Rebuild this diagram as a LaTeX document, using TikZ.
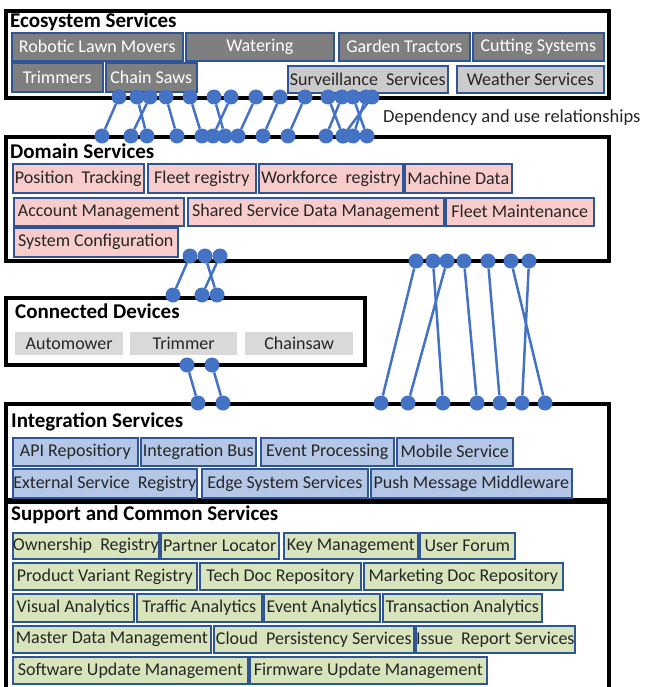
\documentclass[tikz,border=0pt]{standalone}
\usepackage{fontspec}
\setmainfont{Carlito}
\definecolor{bord}{HTML}{2F5597}
\definecolor{link}{HTML}{4472C4}
\definecolor{ecodark}{HTML}{7F7F7F}
\definecolor{ecolight}{HTML}{CBCBCB}
\definecolor{devgray}{HTML}{D9D9D9}
\definecolor{dompink}{HTML}{F9CCCC}
\definecolor{intblue}{HTML}{B4C7E7}
\definecolor{supgreen}{HTML}{D8E4BC}
\begin{document}
\begin{tikzpicture}[x=1pt,y=-1pt,
  layer/.style={draw=black, line width=3.5pt},
  title/.style={anchor=west, inner sep=0pt, font=\fontsize{21}{24}\selectfont\bfseries},
  item/.style={draw=bord, line width=1.6pt, anchor=north west, inner sep=0pt,
    font=\fontsize{18}{20}\selectfont, text=black!85},
  eco/.style={item, fill=ecodark, text=white},
  ecol/.style={item, fill=ecolight},
  dom/.style={item, fill=dompink},
  integ/.style={item, fill=intblue},
  sup/.style={item, fill=supgreen},
  dev/.style={anchor=north west, inner sep=0pt, fill=devgray,
    font=\fontsize{18}{20}\selectfont, text=black!85},
  dot/.style={circle, fill=link, inner sep=0pt, minimum size=15pt},
  dep/.style={draw=link, line width=2.5pt}
]
\useasboundingbox (0,0) rectangle (645,687);
\clip (0,0) rectangle (645,687);

% layer frames
\draw[layer] (6,11) rectangle (609,98);
\draw[layer] (6,137) rectangle (609,261);
\draw[layer] (6,298) rectangle (365,365);
\draw[layer] (6,404) rectangle (609,500);
\draw[layer] (6,502) rectangle (609,695);

% titles
\node[title] (tEco) at (10,22) {Ecosystem Services};
\node[title] (tDom) at (10,151) {Domain Services};
\node[title] (tDev) at (15,311) {Connected Devices};
\node[title] (tInt) at (11,422) {Integration Services};
\node[title] (tSup) at (11,515) {Support and Common Services};

% ecosystem services
\node[eco, minimum width=171pt, minimum height=28pt] (rlm) at (11,32) {Robotic Lawn Movers};
\node[eco, minimum width=148pt, minimum height=28pt] (wat) at (185,32) {Watering};
\node[eco, minimum width=131pt, minimum height=28pt] (gtr) at (338,32) {Garden Tractors};
\node[eco, minimum width=131pt, minimum height=28pt] (cut) at (472,32) {Cutting Systems};
\node[eco, minimum width=91pt, minimum height=29pt] (trm) at (11,62) {Trimmers};
\node[eco, minimum width=91pt, minimum height=29pt] (saw) at (105,62) {Chain Saws};
\node[ecol, minimum width=160pt, minimum height=27pt] (srv) at (287,65) {Surveillance\ \ Services};
\node[ecol, minimum width=147pt, minimum height=27pt] (wth) at (456,65) {Weather Services};

% domain services
\node[dom, minimum width=131pt, minimum height=29pt] (pos) at (12,163) {Position\ \ Tracking};
\node[dom, minimum width=108pt, minimum height=29pt] (flr) at (147,163) {Fleet registry};
\node[dom, minimum width=144pt, minimum height=29pt] (wfr) at (258,163) {Workforce\ \ registry};
\node[dom, minimum width=107pt, minimum height=29pt] (mdt) at (404,163) {Machine Data};
\node[dom, minimum width=170pt, minimum height=28pt] (acc) at (13,197) {Account Management};
\node[dom, minimum width=256pt, minimum height=28pt] (ssd) at (187,197) {Shared Service Data Management};
\node[dom, minimum width=148pt, minimum height=28pt] (flm) at (445,197) {Fleet Maintenance};
\node[dom, minimum width=164pt, minimum height=29pt] (cfg) at (13,227) {System Configuration};

% connected devices
\node[dev, minimum width=108pt, minimum height=23pt] (amw) at (15,332) {Automower};
\node[dev, minimum width=107pt, minimum height=23pt] (tri) at (130,332) {Trimmer};
\node[dev, minimum width=108pt, minimum height=23pt] (chs) at (245,332) {Chainsaw};

% integration services
\node[integ, minimum width=125pt, minimum height=28pt] (api) at (12,437) {API Repositiory};
\node[integ, minimum width=115pt, minimum height=28pt] (bus) at (140,437) {Integration Bus};
\node[integ, minimum width=133pt, minimum height=28pt] (evp) at (260,437) {Event Processing};
\node[integ, minimum width=116pt, minimum height=28pt] (mob) at (396,437) {Mobile Service};
\node[integ, minimum width=184pt, minimum height=29pt] (esr) at (12,468) {External Service\ \ Registry};
\node[integ, minimum width=166pt, minimum height=29pt] (edg) at (201,468) {Edge System Services};
\node[integ, minimum width=201pt, minimum height=29pt] (pmm) at (370,468) {Push Message Middleware};

% support and common services
\node[sup, minimum width=146pt, minimum height=26pt] (own) at (12,532) {Ownership\ \ Registry};
\node[sup, minimum width=118pt, minimum height=26pt] (ptl) at (160,532) {Partner Locator};
\node[sup, minimum width=134pt, minimum height=26pt] (key) at (283,532) {Key Management};
\node[sup, minimum width=95pt, minimum height=26pt] (usf) at (419,532) {User Forum};
\node[sup, minimum width=184pt, minimum height=27pt] (pvr) at (12,562) {Product Variant Registry};
\node[sup, minimum width=161pt, minimum height=27pt] (tdr) at (199,562) {Tech Doc Repository};
\node[sup, minimum width=199pt, minimum height=27pt] (mdr) at (363,562) {Marketing Doc Repository};
\node[sup, minimum width=121pt, minimum height=28pt] (vsa) at (12,593) {Visual Analytics};
\node[sup, minimum width=125pt, minimum height=28pt] (tra) at (136,593) {Traffic Analytics};
\node[sup, minimum width=116pt, minimum height=28pt] (eva) at (263,593) {Event Analytics};
\node[sup, minimum width=159pt, minimum height=28pt] (tna) at (382,593) {Transaction Analytics};
\node[sup, minimum width=198pt, minimum height=27pt] (mdm) at (12,625) {Master Data Management};
\node[sup, minimum width=200pt, minimum height=27pt] (cps) at (213,625) {Cloud\ \ Persistency Services};
\node[sup, minimum width=159pt, minimum height=27pt] (irs) at (415,625) {Issue\ \ Report Services};
\node[sup, minimum width=235pt, minimum height=27pt] (sum) at (12,656) {Software Update Management};
\node[sup, minimum width=237pt, minimum height=27pt] (fum) at (249,656) {Firmware Update Management};

% legend
\node[anchor=west, inner sep=0pt, font=\fontsize{18.5}{22}\selectfont, text=black!85] (legend) at (383,118) {Dependency and use relationships};

% dependency links: ecosystem -> domain
\foreach \n/\a/\b in {e1/119/102, e2/137/147, e3/150/131, e4/166/177, e5/190/202,
    e6/214/225, e7/231/213, e8/256/238, e9/280/263, e10/305/288,
    e11/328/343, e12/342/326, e13/353/367, e14/366/353, e15/372/343} {
  \node[dot] (\n t) at (\a,97) {};
  \node[dot] (\n b) at (\b,136) {};
  \draw[dep] (\n t) -- (\n b);
}

% dependency links: domain -> connected devices
\foreach \n/\a/\b in {d1/190/173, d2/205/217, d3/220/202} {
  \node[dot] (\n t) at (\a,256) {};
  \node[dot] (\n b) at (\b,295) {};
  \draw[dep] (\n t) -- (\n b);
}

% dependency links: connected devices -> integration
\foreach \n/\a/\b in {c1/187/198, c2/212/223} {
  \node[dot] (\n t) at (\a,365) {};
  \node[dot] (\n b) at (\b,403) {};
  \draw[dep] (\n t) -- (\n b);
}

% dependency links: domain -> integration
\foreach \n/\a/\b in {i1/416/381, i2/433/443, i3/447/408, i4/464/477,
    i5/488/500, i6/511/545, i7/529/522} {
  \node[dot] (\n t) at (\a,261) {};
  \node[dot] (\n b) at (\b,403) {};
  \draw[dep] (\n t) -- (\n b);
}
\end{tikzpicture}
\end{document}
